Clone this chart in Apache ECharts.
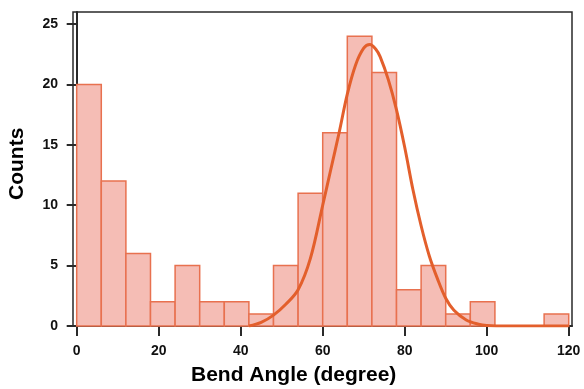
<!DOCTYPE html>
<html>
<head>
<meta charset="utf-8">
<script src="https://cdn.jsdelivr.net/npm/echarts@6/dist/echarts.min.js"></script>
<style>
  html, body { margin: 0; padding: 0; background: #fff; }
  #chart { width: 584px; height: 389px; }
</style>
</head>
<body>
<div id="chart"></div>
<script>
// histogram bins (degree) and counts
const binStart = [0, 6, 12, 18, 24, 30, 36, 42, 48, 54, 60, 66, 72, 78, 84, 90, 96, 102, 108, 114]
const binWidth = 6
const counts = [20, 12, 6, 2, 5, 2, 2, 1, 5, 11, 16, 24, 21, 3, 5, 1, 2, 0, 0, 1]

// fitted curve
const fitX = [42, 45, 48, 51, 54, 57, 60, 62, 64, 66, 68, 70, 71.5, 73, 74, 76, 78, 80, 82, 84, 86, 88, 90, 92, 95, 98, 100, 105, 110, 115, 120]
const fitY = [0, 0.3, 0.9, 1.8, 3.0, 5.6, 10.0, 13.0, 16.0, 19.2, 21.6, 23.0, 23.3, 22.9, 22.3, 20.4, 17.9, 14.8, 11.3, 8.3, 5.8, 3.9, 2.3, 1.3, 0.5, 0.15, 0.05, 0, 0, 0, 0]

const xTicks = [0, 20, 40, 60, 80, 100, 120]
const yTicks = [0, 5, 10, 15, 20, 25]

const font = 'Liberation Sans, Arial, Helvetica, sans-serif'
const axisColor = '#2a2a2a'

const chart = echarts.init(document.getElementById('chart'), null, { renderer: 'canvas' })

const barData = binStart.map((s, i) => [s, s + binWidth, counts[i]])
const lineData = fitX.map((x, i) => [x, fitY[i]])

const option = {
  animation: false,
  grid: {
    left: 73, right: 12, top: 12, bottom: 63,
    show: true,
    borderColor: axisColor,
    borderWidth: 1.5,
    backgroundColor: 'transparent'
  },
  xAxis: {
    type: 'value',
    min: -0.9,
    max: 120.8,
    splitLine: { show: false },
    axisLine: { show: true, onZero: false, lineStyle: { color: axisColor, width: 2 } },
    axisTick: { show: true, inside: false, length: 10, customValues: xTicks, lineStyle: { color: axisColor, width: 2 } },
    axisLabel: {
      inside: false, customValues: xTicks, margin: 18,
      color: '#111', fontWeight: 'bold', fontSize: 14, fontFamily: font
    }
  },
  yAxis: {
    type: 'value',
    min: 0,
    max: 26,
    splitLine: { show: false },
    axisLine: { show: true, lineStyle: { color: axisColor, width: 2 } },
    axisTick: { show: true, inside: false, length: 10, customValues: yTicks, lineStyle: { color: axisColor, width: 2 } },
    axisLabel: {
      inside: false, customValues: yTicks, margin: 15,
      color: '#111', fontWeight: 'bold', fontSize: 14, fontFamily: font
    }
  },
  graphic: [
    {
      type: 'text',
      left: 191, top: 365,
      style: { text: 'Bend Angle (degree)', font: 'bold 21px ' + font, fill: '#000' }
    },
    {
      type: 'text',
      x: 7, y: 200, rotation: Math.PI / 2,
      style: { text: 'Counts', font: 'bold 21px ' + font, fill: '#000' }
    }
  ],
  series: [
    {
      type: 'custom',
      data: barData,
      z: 2,
      renderItem: function (params, api) {
        const p0 = api.coord([api.value(0), api.value(2)])
        const p1 = api.coord([api.value(1), 0])
        return {
          type: 'rect',
          shape: { x: p0[0], y: p0[1], width: p1[0] - p0[0], height: p1[1] - p0[1] },
          style: { fill: '#f5bdb5', stroke: '#e8714f', lineWidth: 1.5 }
        }
      }
    },
    {
      type: 'line',
      data: lineData,
      z: 3,
      smooth: 0.35,
      showSymbol: false,
      lineStyle: { color: '#e35f2c', width: 3 }
    }
  ]
}

chart.setOption(option)
</script>
</body>
</html>
